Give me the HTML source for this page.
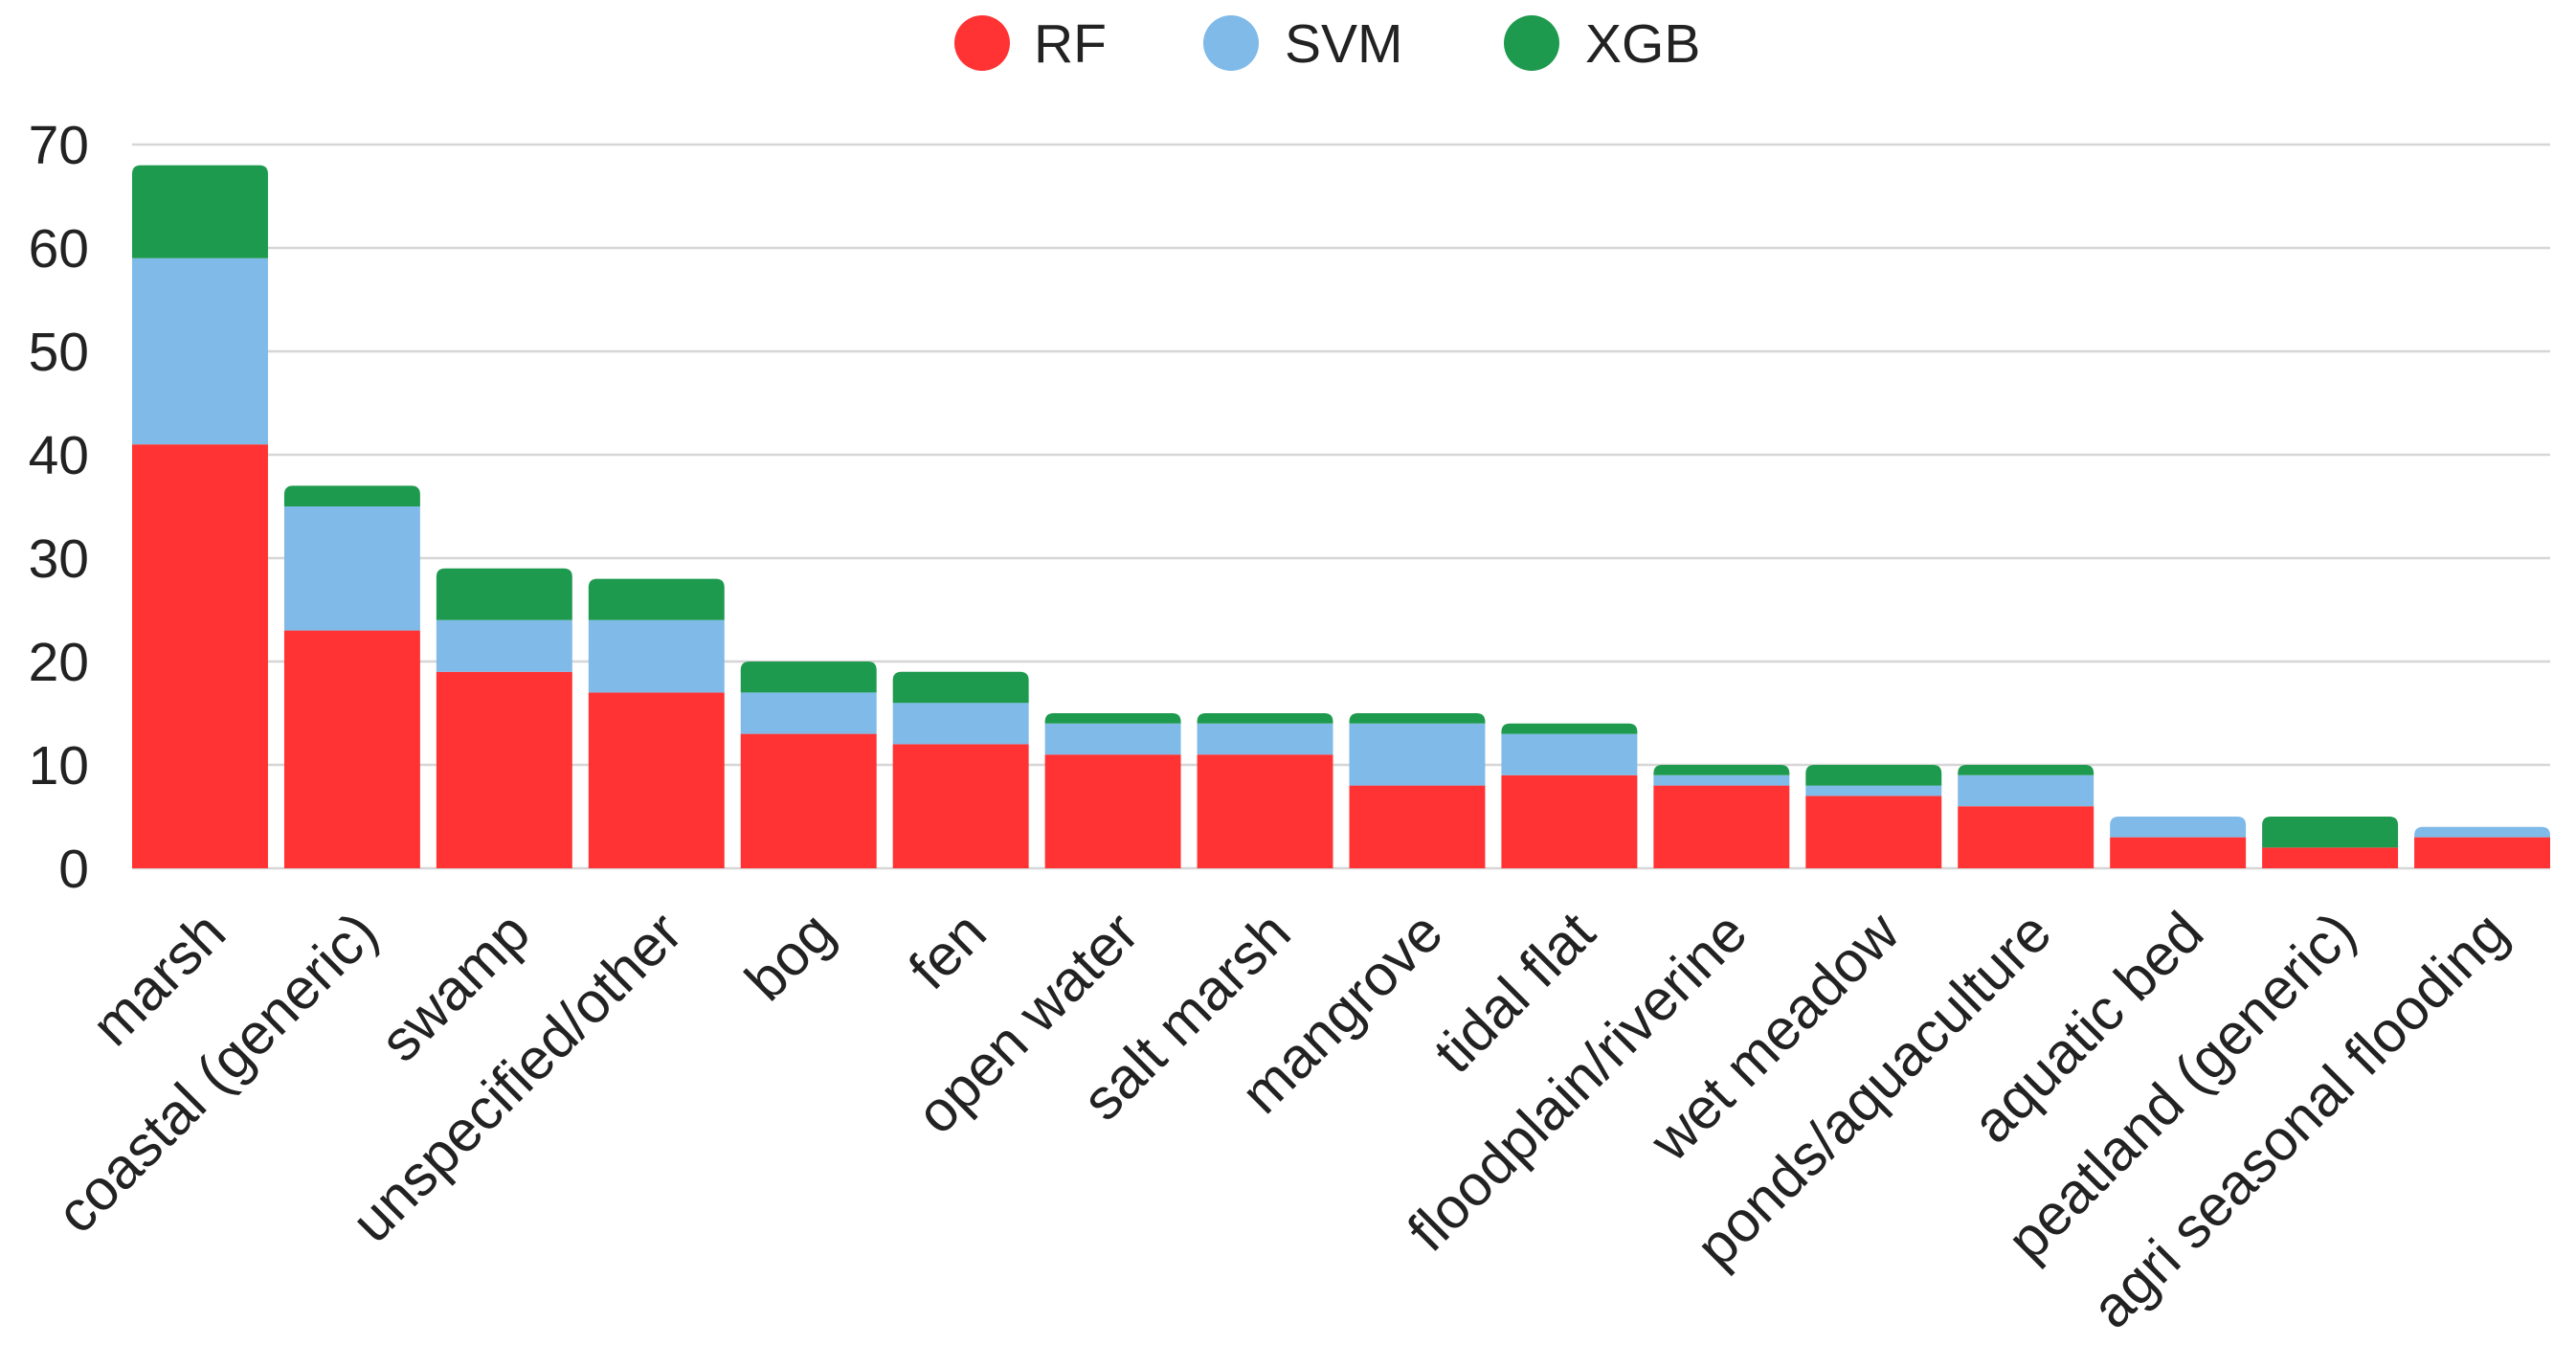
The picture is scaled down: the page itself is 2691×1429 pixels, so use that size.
<!DOCTYPE html>
<html><head><meta charset="utf-8"><style>
html,body{margin:0;padding:0;background:#fff;}
svg{display:block;font-family:"Liberation Sans",sans-serif;}
</style></head><body>
<svg id="chart" width="2691" height="1429" xmlns="http://www.w3.org/2000/svg">
<g id="legend">
<g><circle cx="1026" cy="45" r="29" fill="#FF3333"/><text x="1080" y="65" font-size="57" fill="#222">RF</text></g>
<g><circle cx="1286" cy="45" r="29" fill="#7FBAE8"/><text x="1342" y="65" font-size="57" fill="#222">SVM</text></g>
<g><circle cx="1600" cy="45" r="29" fill="#1E9A4E"/><text x="1656" y="65" font-size="57" fill="#222">XGB</text></g>
</g>
<g id="grid"></g>
<g id="yaxis"></g>
<g id="bars"></g>
<g id="xaxis"></g>
</svg>
<script>
const categories = ["marsh","coastal (generic)","swamp","unspecified/other","bog","fen","open water","salt marsh","mangrove","tidal flat","floodplain/riverine","wet meadow","ponds/aquaculture","aquatic bed","peatland (generic)","agri seasonal flooding"];
const rfValues  = [41,23,19,17,13,12,11,11,8,9,8,7,6,3,2,3];
const svmValues = [18,12,5,7,4,4,3,3,6,4,1,1,3,2,0,1];
const xgbValues = [9,2,5,4,3,3,1,1,1,1,1,2,1,0,3,0];
const yTicks = [0,10,20,30,40,50,60,70];

const NS="http://www.w3.org/2000/svg";
const plotL=138, plotR=2664, y0=907, yTop=151, yMax=70, gap=17;
const pitch=(plotR-plotL+gap)/categories.length, barW=pitch-gap;
function yScale(v){return y0-(v/yMax)*(y0-yTop);}
function xScale(i){return plotL+i*pitch;}
function mk(tag,attrs,parent){const e=document.createElementNS(NS,tag);for(const k in attrs)e.setAttribute(k,attrs[k]);parent.appendChild(e);return e;}
const grid=document.getElementById('grid'),yax=document.getElementById('yaxis'),bars=document.getElementById('bars'),xax=document.getElementById('xaxis');
yTicks.forEach(t=>{
  const l=mk('line',{x1:plotL,x2:plotR,y1:yScale(t),y2:yScale(t),stroke:'#d6d6d6','stroke-width':2.5},grid);
  
  
  const tx=mk('text',{x:93,y:yScale(t)+20,'text-anchor':'end','font-size':57,fill:'#222'},yax);
  tx.textContent=t;
  
  
});
const series=[["rf",rfValues,"#FF3333"],["svm",svmValues,"#7FBAE8"],["xgb",xgbValues,"#1E9A4E"]];
function topPath(x,y,w,h,r){r=Math.min(r,h);return `M${x},${y+h}V${y+r}Q${x},${y} ${x+r},${y}H${x+w-r}Q${x+w},${y} ${x+w},${y+r}V${y+h}Z`;}
categories.forEach((c,i)=>{
  let base=0;
  let lastIdx=-1;series.forEach((s,k)=>{if(s[1][i]>0)lastIdx=k;});
  series.forEach((s,k)=>{
    const v=s[1][i]; if(v<=0)return;
    const yb=yScale(base), yt=yScale(base+v), x=xScale(i);
    let el;
    if(k===lastIdx) el=mk('path',{d:topPath(x,yt,barW,yb-yt,9),fill:s[2]},bars);
    else el=mk('rect',{x:x,y:yt,width:barW,height:yb-yt,fill:s[2]},bars);
    
    
    base+=v;
  });
  const cx=xScale(i)+barW/2+30, cy=978;
  const t=mk('text',{x:cx,y:cy,'text-anchor':'end','font-size':60,fill:'#222',transform:`rotate(-45 ${cx} ${cy})`},xax);
  t.textContent=c;
  
  
});
</script>
</body></html>
